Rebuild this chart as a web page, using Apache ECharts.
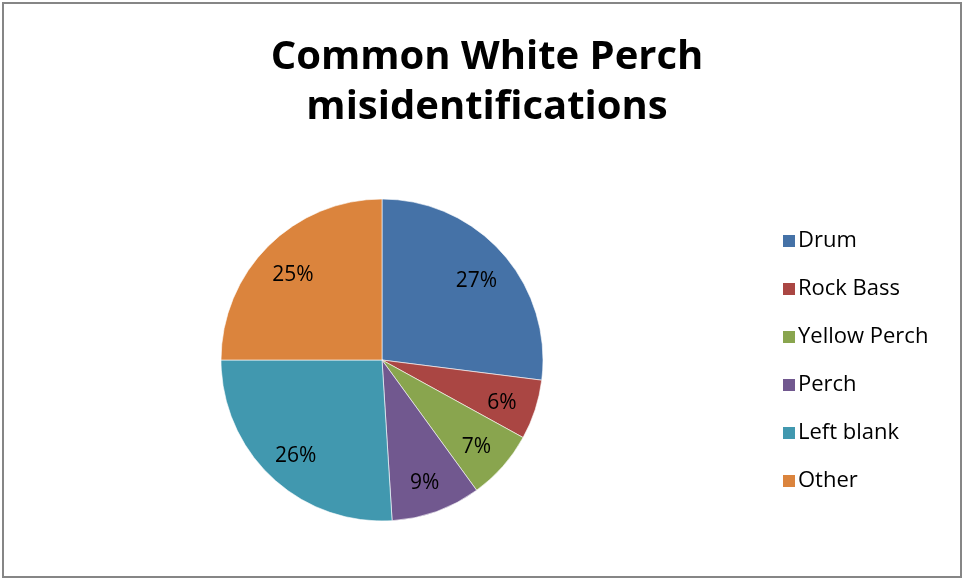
<!DOCTYPE html>
<html>
<head>
<meta charset="utf-8">
<script src="https://cdn.jsdelivr.net/npm/echarts@6/dist/echarts.min.js"></script>
<style>
  html, body { margin: 0; padding: 0; background: #fff; }
  #chart { width: 964px; height: 581px; }
</style>
</head>
<body>
<div id="chart"></div>
<script>
// Misidentification shares (percent of responses)
const categories = ['Drum', 'Rock Bass', 'Yellow Perch', 'Perch', 'Left blank', 'Other'];
const shares = [27, 6, 7, 9, 26, 25];
const colors = ['#4572a7', '#aa4643', '#89a54e', '#71588f', '#4198af', '#db843d'];

const FONT = '"Open Sans", Lato, sans-serif';
const pieData = categories.map((name, i) => ({ name, value: shares[i] }));

const chart = echarts.init(document.getElementById('chart'), null, { renderer: 'canvas' });
chart.setOption({
  animation: false,
  backgroundColor: '#fff',
  color: colors,
  title: {
    text: 'Common White Perch\nmisidentifications',
    left: 482, top: 28, textAlign: 'center',
    textStyle: { fontFamily: FONT, fontWeight: 'bold', fontSize: 40, lineHeight: 50, color: '#000' }
  },
  legend: {
    orient: 'vertical',
    left: 776, top: 225,
    itemWidth: 14, itemHeight: 14, itemGap: 26,
    icon: 'rect',
    data: categories,
    textStyle: { fontFamily: FONT, fontSize: 22, color: '#000', padding: [0, 0, 0, -3] }
  },
  graphic: [{
    type: 'rect',
    shape: { x: 3, y: 3, width: 958, height: 574 },
    style: { fill: 'none', stroke: '#868686', lineWidth: 2 },
    silent: true
  }],
  series: [
    {
      type: 'pie',
      center: [382, 360],
      radius: [0, 161],
      startAngle: 90,
      clockwise: true,
      data: pieData,
      label: { show: false },
      labelLine: { show: false },
      itemStyle: { borderColor: '#fff', borderWidth: 0.6 },
      emphasis: { disabled: true }
    },
    {
      // label ring placed over the slices
      type: 'pie',
      center: [382, 360],
      radius: [85, 161],
      startAngle: 90,
      clockwise: true,
      silent: true,
      data: pieData,
      itemStyle: { color: 'rgba(0,0,0,0)' },
      label: {
        show: true,
        position: 'inside',
        offset: [0, 4],
        formatter: p => p.value + '%',
        fontFamily: FONT, fontSize: 21, color: '#000'
      },
      labelLine: { show: false },
      emphasis: { disabled: true }
    }
  ]
});
</script>
</body>
</html>
